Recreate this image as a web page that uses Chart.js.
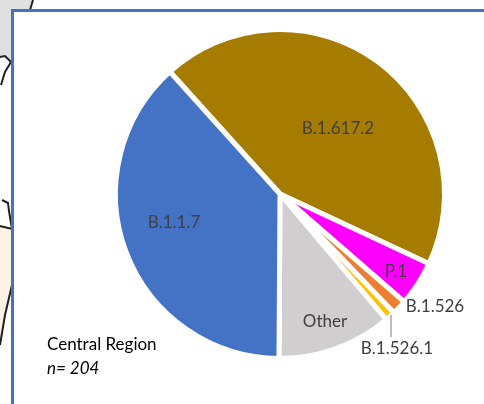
<!DOCTYPE html>
<html>
    <head>
        <title>Central Region</title>
        <script src="https://cdn.jsdelivr.net/npm/chart.js@4"></script>
        <style>
            html, body { margin: 0; padding: 0; background: #fff; overflow: hidden; }
            #wrap { position: relative; width: 484px; height: 404px; overflow: hidden; }
            #map { position: absolute; left: 0; top: 0; }
            #box {
                position: absolute; left: 11px; top: 9px; width: 480px; height: 400px;
                background: #fff; border: 3px solid #4472c4; box-sizing: border-box;
            }
            #plot { position: absolute; left: 0; top: 0; }
        </style>
    </head>
    <body>
        <div id="wrap">
            <svg id="map" width="484" height="404">
                <path d="M0 0H33L30 10H14V64L11 62L5 56L0 57Z" fill="#e0e0e0" />
                <path d="M0 226L12 229V285L0 345Z" fill="#fdf0e4" />
                <path d="M33 0L30 10M0 57L5 56L11 62L5 72L1 85M2 200L8 203L9 211L12 229L0 226M12 285L5 315L0 345"
                    fill="none" stroke="#222" stroke-width="2" style="filter: blur(0.4px)" />
            </svg>
            <div id="box"></div>
            <canvas id="plot" width="484" height="404"></canvas>
        </div>

        <script>
            const categories = ['B.1.617.2', 'P.1', 'B.1.526', 'B.1.526.1', 'Other', 'B.1.1.7']
            const counts = [89, 9, 3, 2, 23, 78]
            const colors = ['#a67c00', '#ff00ff', '#ed7d31', '#ffc000', '#d0cece', '#4472c4']

            // label anchors
            const labelSpots = {
                'B.1.617.2': [338, 129],
                'P.1': [396, 272],
                'B.1.526': [435, 307],
                'B.1.526.1': [397, 349],
                Other: [325, 322],
                'B.1.1.7': [174, 223],
            }

            const labels = {
                id: 'labels',
                afterDraw(chart) {
                    const c = chart.ctx
                    c.save()
                    c.strokeStyle = '#a6a6a6'
                    c.lineWidth = 1.5
                    c.beginPath()
                    c.moveTo(391, 315)
                    c.lineTo(391, 337)
                    c.stroke()
                    c.font = '17px Lato, Carlito, sans-serif'
                    c.fillStyle = '#404040'
                    c.textAlign = 'center'
                    c.textBaseline = 'middle'
                    categories.forEach(k => c.fillText(k, labelSpots[k][0], labelSpots[k][1]))
                    c.fillStyle = '#000'
                    c.textAlign = 'left'
                    c.fillText('Central Region', 47, 345)
                    c.font = 'italic 17px Lato, Carlito, sans-serif'
                    c.fillText('n= 204', 47, 369)
                    c.restore()
                },
            }

            new Chart(document.getElementById('plot'), {
                type: 'pie',
                data: {
                    labels: categories,
                    datasets: [
                        {
                            data: counts,
                            backgroundColor: colors,
                            borderColor: '#fff',
                            borderWidth: 5,
                            rotation: 318,
                        },
                    ],
                },
                options: {
                    responsive: false,
                    animation: false,
                    layout: { padding: { left: 113, right: 37, top: 27, bottom: 43 } },
                    plugins: { legend: { display: false }, tooltip: { enabled: false } },
                },
                plugins: [labels],
            })
        </script>
    </body>
</html>
